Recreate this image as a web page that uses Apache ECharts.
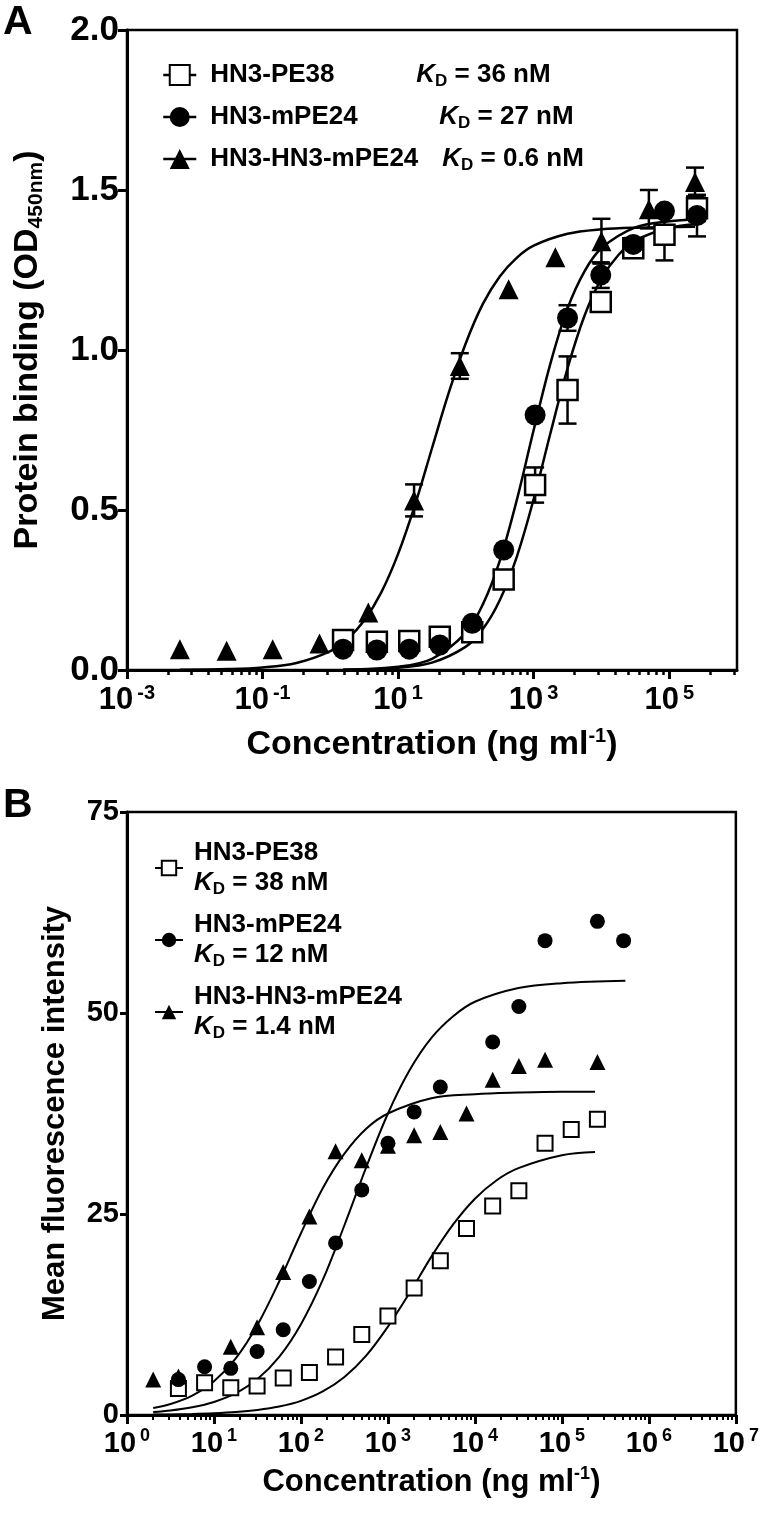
<!DOCTYPE html>
<html><head><meta charset="utf-8">
<script src="https://cdn.jsdelivr.net/npm/echarts@6/dist/echarts.min.js"></script>
<style>html,body{margin:0;padding:0;background:#fff}#c{width:762px;height:1517px}</style>
</head><body><div id="c"></div>
<script>
// ---------- Panel A: ELISA binding (OD450) ----------
const aConc = [1.54, 4.86, 14.6, 41.2, 124, 361, 1050, 3160, 9770, 29500, 85100, 257000];
const aPE38 = [0.094, 0.088, 0.091, 0.104, 0.118, 0.283, 0.578, 0.875, 1.15, 1.318, 1.36, 1.443];
const aPE38Err = [0, 0, 0, 0, 0, 0, 0.055, 0.105, 0, 0.02, 0.08, 0.04];
const aMPE24 = [0.065, 0.0625, 0.065, 0.078, 0.146, 0.375, 0.797, 1.10, 1.234, 1.33, 1.434, 1.42];
const aMPE24Err = [0, 0, 0, 0, 0, 0, 0.01, 0.04, 0.04, 0.02, 0, 0.065];
const aConcHN3 = [0.00603, 0.0295, 0.141, 0.692, 3.63, 17.2, 81.3, 427, 2090, 10000, 50100, 240000];
const aHN3 = [0.065, 0.06, 0.065, 0.083, 0.18, 0.53, 0.95, 1.19, 1.29, 1.34, 1.44, 1.525];
const aHN3Err = [0, 0, 0, 0, 0, 0.05, 0.04, 0, 0, 0.07, 0.06, 0.045];
// fitted curves
const aFitHN3X = [0.006, 0.0316, 0.1, 0.316, 1, 1.78, 3.16, 5.62, 10, 17.8, 31.6, 56.2, 100, 178, 316, 562, 1000, 3162, 10000, 31623, 240000];
const aFitHN3Y = [0.001, 0.003, 0.008, 0.022, 0.059, 0.097, 0.155, 0.242, 0.363, 0.517, 0.693, 0.868, 1.022, 1.144, 1.230, 1.288, 1.326, 1.363, 1.377, 1.382, 1.385];
const aFitMPE24X = [1.55, 10, 31.6, 100, 178, 316, 562, 1000, 1778, 3162, 5623, 10000, 31623, 100000, 257000];
const aFitMPE24Y = [0.001, 0.010, 0.035, 0.117, 0.205, 0.341, 0.530, 0.750, 0.960, 1.130, 1.246, 1.318, 1.383, 1.402, 1.408];
const aFitPE38X = [1.55, 10, 31.6, 100, 178, 316, 562, 1000, 1778, 3162, 5623, 10000, 17783, 31623, 100000, 257000];
const aFitPE38Y = [0.001, 0.007, 0.023, 0.073, 0.128, 0.218, 0.353, 0.534, 0.742, 0.943, 1.107, 1.223, 1.297, 1.342, 1.382, 1.393];
const aXTicks = [0.001, 0.1, 10, 1000, 100000];
const aYTicks = [0, 0.5, 1.0, 1.5, 2.0];

// ---------- Panel B: flow cytometry MFI ----------
const bConcPE38 = [3.9, 7.8, 15.6, 31.3, 62.5, 125, 250, 500, 1000, 2000, 4000, 8000, 16000, 32000, 64000, 128000, 256000];
const bPE38 = [3.3, 4.0, 3.4, 3.6, 4.6, 5.3, 7.2, 10.0, 12.3, 15.8, 19.2, 23.2, 26.0, 27.9, 33.8, 35.5, 36.8];
const bConcMPE24 = [3.9, 7.8, 15.6, 31.3, 62.5, 125, 250, 500, 1000, 2000, 4000, 16000, 32000, 64000, 256000, 512000];
const bMPE24 = [4.4, 6.0, 5.8, 7.9, 10.6, 16.6, 21.4, 28.0, 33.8, 37.7, 40.8, 46.4, 50.8, 59.0, 61.4, 59.0];
const bConcHN3 = [2, 3.9, 15.6, 31.3, 62.5, 125, 250, 500, 1000, 2000, 4000, 8000, 16000, 32000, 64000, 256000];
const bHN3 = [4.4, 4.8, 8.5, 10.9, 17.8, 24.7, 32.8, 31.7, 33.5, 34.8, 35.2, 37.5, 41.7, 43.4, 44.2, 43.9];
const bFitHN3X = [2, 3.16, 5.62, 10, 17.8, 31.6, 56.2, 100, 178, 316, 562, 1000, 3162, 10000, 31623, 100000, 240000];
const bFitHN3Y = [0.86, 1.37, 2.42, 4.21, 7.05, 11.2, 16.6, 22.6, 28.2, 32.5, 35.6, 37.5, 39.4, 39.9, 40.1, 40.2, 40.2];
const bFitMPE24X = [2, 3.16, 5.62, 10, 17.8, 31.6, 56.2, 100, 178, 316, 562, 1000, 1778, 3162, 5623, 10000, 31623, 100000, 537000];
const bFitMPE24Y = [0.37, 0.56, 0.96, 1.62, 2.71, 4.47, 7.23, 11.3, 16.8, 23.6, 30.8, 37.5, 42.9, 46.9, 49.6, 51.4, 53.1, 53.7, 54.0];
const bFitPE38X = [2, 3.16, 5.62, 10, 17.8, 31.6, 56.2, 100, 178, 316, 562, 1000, 1778, 3162, 5623, 10000, 17783, 31623, 100000, 240000];
const bFitPE38Y = [0.05, 0.07, 0.12, 0.21, 0.36, 0.62, 1.05, 1.76, 2.93, 4.73, 7.39, 11.0, 15.2, 19.7, 23.7, 26.9, 29.2, 30.7, 32.3, 32.7];
const bXTicks = [1, 10, 100, 1000, 10000, 100000, 1000000, 10000000];
const bYTicks = [0, 25, 50, 75];

// legend texts
const names = ['HN3-PE38', 'HN3-mPE24', 'HN3-HN3-mPE24'];
const aKD = ['36 nM', '27 nM', '0.6 nM'];
const bKD = ['38 nM', '12 nM', '1.4 nM'];

// minor tick positions
const aMinor = [];
[-3, -1, 1, 3, 5].forEach(m => { for (let k = 2; k <= 9; k++) { const v = Math.pow(10, m) * k * k; if (v < 1e6) aMinor.push(v); } });
const bMinor = [];
for (let m = 0; m < 7; m++) for (let k = 2; k <= 9; k++) bMinor.push(Math.pow(10, m) * k);

const F = '"Liberation Sans", Arial, Helvetica, sans-serif';
const FN = '"Liberation Sans Narrow", "Arial Narrow", "Liberation Sans", sans-serif';
const zip = (xs, ys) => xs.map((x, i) => [x, ys[i]]);
const zipErr = (xs, ys, es) => xs.map((x, i) => [x, ys[i], es[i]]).filter(d => d[2] > 0);

function expLabel(v) {
  const e = Math.round(Math.log10(v));
  return '{b|10}{s|' + (e < 0 ? '-' + (-e) : e) + '}';
}

function errRender(params, api) {
  const x = api.value(0), y = api.value(1), e = api.value(2);
  const t = api.coord([x, y + e]), b = api.coord([x, y - e]);
  const w = 9;
  const st = { stroke: '#000', lineWidth: 2.5 };
  return { type: 'group', children: [
    { type: 'line', shape: { x1: t[0], y1: t[1], x2: b[0], y2: b[1] }, style: st },
    { type: 'line', shape: { x1: t[0] - w, y1: t[1], x2: t[0] + w, y2: t[1] }, style: st },
    { type: 'line', shape: { x1: b[0] - w, y1: b[1], x2: b[0] + w, y2: b[1] }, style: st }
  ]};
}

function fitLine(name, xs, ys, xi, yi, w) {
  return { type: 'line', name: name, xAxisIndex: xi, yAxisIndex: yi, data: zip(xs, ys),
    showSymbol: false, smooth: 0.35, silent: true,
    lineStyle: { color: '#000', width: w }, z: 2 };
}
function pts(name, xs, ys, xi, yi, symbol, size, open, bw) {
  return { type: 'line', name: name, xAxisIndex: xi, yAxisIndex: yi, data: zip(xs, ys),
    symbol: symbol, symbolSize: size, showSymbol: true, showAllSymbol: true,
    lineStyle: { width: 0, opacity: 0 },
    itemStyle: open ? { color: '#fff', borderColor: '#000', borderWidth: bw } : { color: '#000', borderColor: '#000', borderWidth: 0 },
    z: 4 };
}
function errs(xs, ys, es, xi, yi) {
  return { type: 'custom', xAxisIndex: xi, yAxisIndex: yi, renderItem: errRender,
    data: zipErr(xs, ys, es), encode: { x: 0, y: 1 }, z: 3, silent: true };
}

const axisLineStyle = { color: '#000', width: 3 };
const tickRich = (big, small) => ({
  b: { fontFamily: FN, fontWeight: 'bold', fontSize: big, lineHeight: big + 4, color: '#000' },
  s: { fontFamily: FN, fontWeight: 'bold', fontSize: small, lineHeight: small, verticalAlign: 'top', color: '#000', padding: [0, 0, 0, 4] }
});

const aNameW = [206, 229, 232];
const legendRichA = {
  sp: { width: 9 },
  n0: { width: aNameW[0], fontFamily: F, fontWeight: 'bold', fontSize: 26, lineHeight: 30, color: '#000' },
  n1: { width: aNameW[1], fontFamily: F, fontWeight: 'bold', fontSize: 26, lineHeight: 30, color: '#000' },
  n2: { width: aNameW[2], fontFamily: F, fontWeight: 'bold', fontSize: 26, lineHeight: 30, color: '#000' },
  k: { fontFamily: F, fontWeight: 'bold', fontStyle: 'italic', fontSize: 26, lineHeight: 30, color: '#000' },
  d: { fontFamily: F, fontWeight: 'bold', fontSize: 17, lineHeight: 17, verticalAlign: 'bottom', color: '#000' },
  v: { fontFamily: F, fontWeight: 'bold', fontSize: 26, lineHeight: 30, color: '#000' }
};
const legendRichB = {
  sp: { width: 6 },
  n: { fontFamily: F, fontWeight: 'bold', fontSize: 26, lineHeight: 30, color: '#000' },
  k: { fontFamily: F, fontWeight: 'bold', fontStyle: 'italic', fontSize: 26, lineHeight: 30, color: '#000' },
  d: { fontFamily: F, fontWeight: 'bold', fontSize: 17, lineHeight: 17, verticalAlign: 'bottom', color: '#000' },
  v: { fontFamily: F, fontWeight: 'bold', fontSize: 26, lineHeight: 30, color: '#000' }
};
const bNames = names.map(n => 'B ' + n);

const option = {
  animation: false,
  backgroundColor: '#fff',
  title: [
    { text: 'A', left: -2, top: -3, textStyle: { fontFamily: F, fontWeight: 'bold', fontSize: 41, color: '#000' } },
    { text: 'B', left: -2, top: 780, textStyle: { fontFamily: F, fontWeight: 'bold', fontSize: 41, color: '#000' } }
  ],
  grid: [
    { left: 127, top: 30, width: 610, height: 640, show: true, borderColor: '#000', borderWidth: 2.5, backgroundColor: 'transparent' },
    { left: 127, top: 812, width: 612, height: 603, show: true, borderColor: '#000', borderWidth: 2.5, backgroundColor: 'transparent' }
  ],
  legend: [
    { data: names, orient: 'vertical', left: 157, top: 57, itemWidth: 33, itemHeight: 25, itemGap: 14,
      selectedMode: false, lineStyle: { color: '#000', width: 2.5, opacity: 1 },
      formatter: n => { const i = names.indexOf(n); return '{sp| }{n' + i + '|' + n + '}{k|K}{d|D}{v| = ' + aKD[i] + '}'; },
      textStyle: { rich: legendRichA } },
    { data: bNames, orient: 'vertical', left: 149, top: 835, itemWidth: 28, itemHeight: 18, itemGap: 14,
      selectedMode: false, lineStyle: { color: '#000', width: 2, opacity: 1 },
      formatter: n => { const i = bNames.indexOf(n); return '{sp| }{n|' + names[i] + '}\n{sp| }{k|K}{d|D}{v| = ' + bKD[i] + '}'; },
      textStyle: { rich: legendRichB } }
  ],
  xAxis: [
    { type: 'log', gridIndex: 0, position: 'bottom', logBase: 10, min: 0.001, max: 1e6,
      axisLine: { lineStyle: axisLineStyle }, splitLine: { show: false },
      axisTick: { customValues: aXTicks, length: 9, lineStyle: { color: '#000', width: 3 } },
      axisLabel: { customValues: aXTicks, formatter: expLabel, margin: 13, rich: tickRich(31, 20) },
      name: '{t|Concentration (ng ml}{s|-1}{t|)}', nameLocation: 'middle', nameGap: 56,
      nameTextStyle: { rich: { t: { fontFamily: F, fontWeight: 'bold', fontSize: 34, lineHeight: 38, color: '#000' },
                               s: { fontFamily: F, fontWeight: 'bold', fontSize: 20, lineHeight: 20, verticalAlign: 'top', color: '#000' } } } },
    { type: 'log', gridIndex: 0, position: 'bottom', logBase: 10, min: 0.001, max: 1e6,
      axisLine: { show: false }, splitLine: { show: false }, axisLabel: { show: false },
      axisTick: { customValues: aMinor, length: 5, lineStyle: { color: '#000', width: 2.5 } } },
    { type: 'log', gridIndex: 1, position: 'bottom', logBase: 10, min: 1, max: 1e7,
      axisLine: { lineStyle: axisLineStyle }, splitLine: { show: false },
      axisTick: { customValues: bXTicks, length: 9, lineStyle: { color: '#000', width: 3 } },
      axisLabel: { customValues: bXTicks, formatter: expLabel, margin: 12, rich: tickRich(29, 18) },
      name: '{t|Concentration (ng ml}{s|-1}{t|)}', nameLocation: 'middle', nameGap: 50,
      nameTextStyle: { rich: { t: { fontFamily: F, fontWeight: 'bold', fontSize: 31, lineHeight: 34, color: '#000' },
                               s: { fontFamily: F, fontWeight: 'bold', fontSize: 18, lineHeight: 18, verticalAlign: 'top', color: '#000' } } } },
    { type: 'log', gridIndex: 1, position: 'bottom', logBase: 10, min: 1, max: 1e7,
      axisLine: { show: false }, splitLine: { show: false }, axisLabel: { show: false },
      axisTick: { customValues: bMinor, length: 5, lineStyle: { color: '#000', width: 2 } } }
  ],
  yAxis: [
    { type: 'value', gridIndex: 0, min: 0, max: 2, interval: 0.5,
      axisLine: { show: true, lineStyle: axisLineStyle }, splitLine: { show: false },
      axisTick: { show: true, length: 9, lineStyle: { color: '#000', width: 3 } },
      axisLabel: { formatter: v => v.toFixed(1), margin: 8, fontFamily: F, fontWeight: 'bold', fontSize: 35, color: '#000' },
      name: '{t|Protein binding (OD}{s|450nm}{t|)}', nameLocation: 'middle', nameGap: 80,
      nameTextStyle: { rich: { t: { fontFamily: F, fontWeight: 'bold', fontSize: 34, lineHeight: 38, color: '#000' },
                               s: { fontFamily: F, fontWeight: 'bold', fontSize: 21, lineHeight: 21, verticalAlign: 'bottom', color: '#000' } } } },
    { type: 'value', gridIndex: 1, min: 0, max: 75, interval: 25,
      axisLine: { show: true, lineStyle: axisLineStyle }, splitLine: { show: false },
      axisTick: { show: true, length: 7, lineStyle: { color: '#000', width: 3 } },
      axisLabel: { margin: 8, fontFamily: F, fontWeight: 'bold', fontSize: 29, color: '#000' },
      name: 'Mean fluorescence intensity', nameLocation: 'middle', nameGap: 56,
      nameTextStyle: { fontFamily: F, fontWeight: 'bold', fontSize: 31, color: '#000' } }
  ],
  series: [
    fitLine('fitA1', aFitPE38X, aFitPE38Y, 0, 0, 2.5),
    fitLine('fitA2', aFitMPE24X, aFitMPE24Y, 0, 0, 2.5),
    fitLine('fitA3', aFitHN3X, aFitHN3Y, 0, 0, 2.5),
    errs(aConc, aPE38, aPE38Err, 0, 0),
    errs(aConc, aMPE24, aMPE24Err, 0, 0),
    errs(aConcHN3, aHN3, aHN3Err, 0, 0),
    pts(names[0], aConc, aPE38, 0, 0, 'rect', 20, true, 2.5),
    pts(names[1], aConc, aMPE24, 0, 0, 'circle', 21, false),
    pts(names[2], aConcHN3, aHN3, 0, 0, 'triangle', 20, false),
    fitLine('fitB1', bFitPE38X, bFitPE38Y, 2, 1, 2),
    fitLine('fitB2', bFitMPE24X, bFitMPE24Y, 2, 1, 2),
    fitLine('fitB3', bFitHN3X, bFitHN3Y, 2, 1, 2),
    pts(bNames[0], bConcPE38, bPE38, 2, 1, 'rect', 15, true, 2),
    pts(bNames[1], bConcMPE24, bMPE24, 2, 1, 'circle', 15, false),
    pts(bNames[2], bConcHN3, bHN3, 2, 1, 'triangle', 16, false)
  ]
};
const chart = echarts.init(document.getElementById('c'), null, { renderer: 'canvas' });
chart.setOption(option);
</script>
</body></html>
